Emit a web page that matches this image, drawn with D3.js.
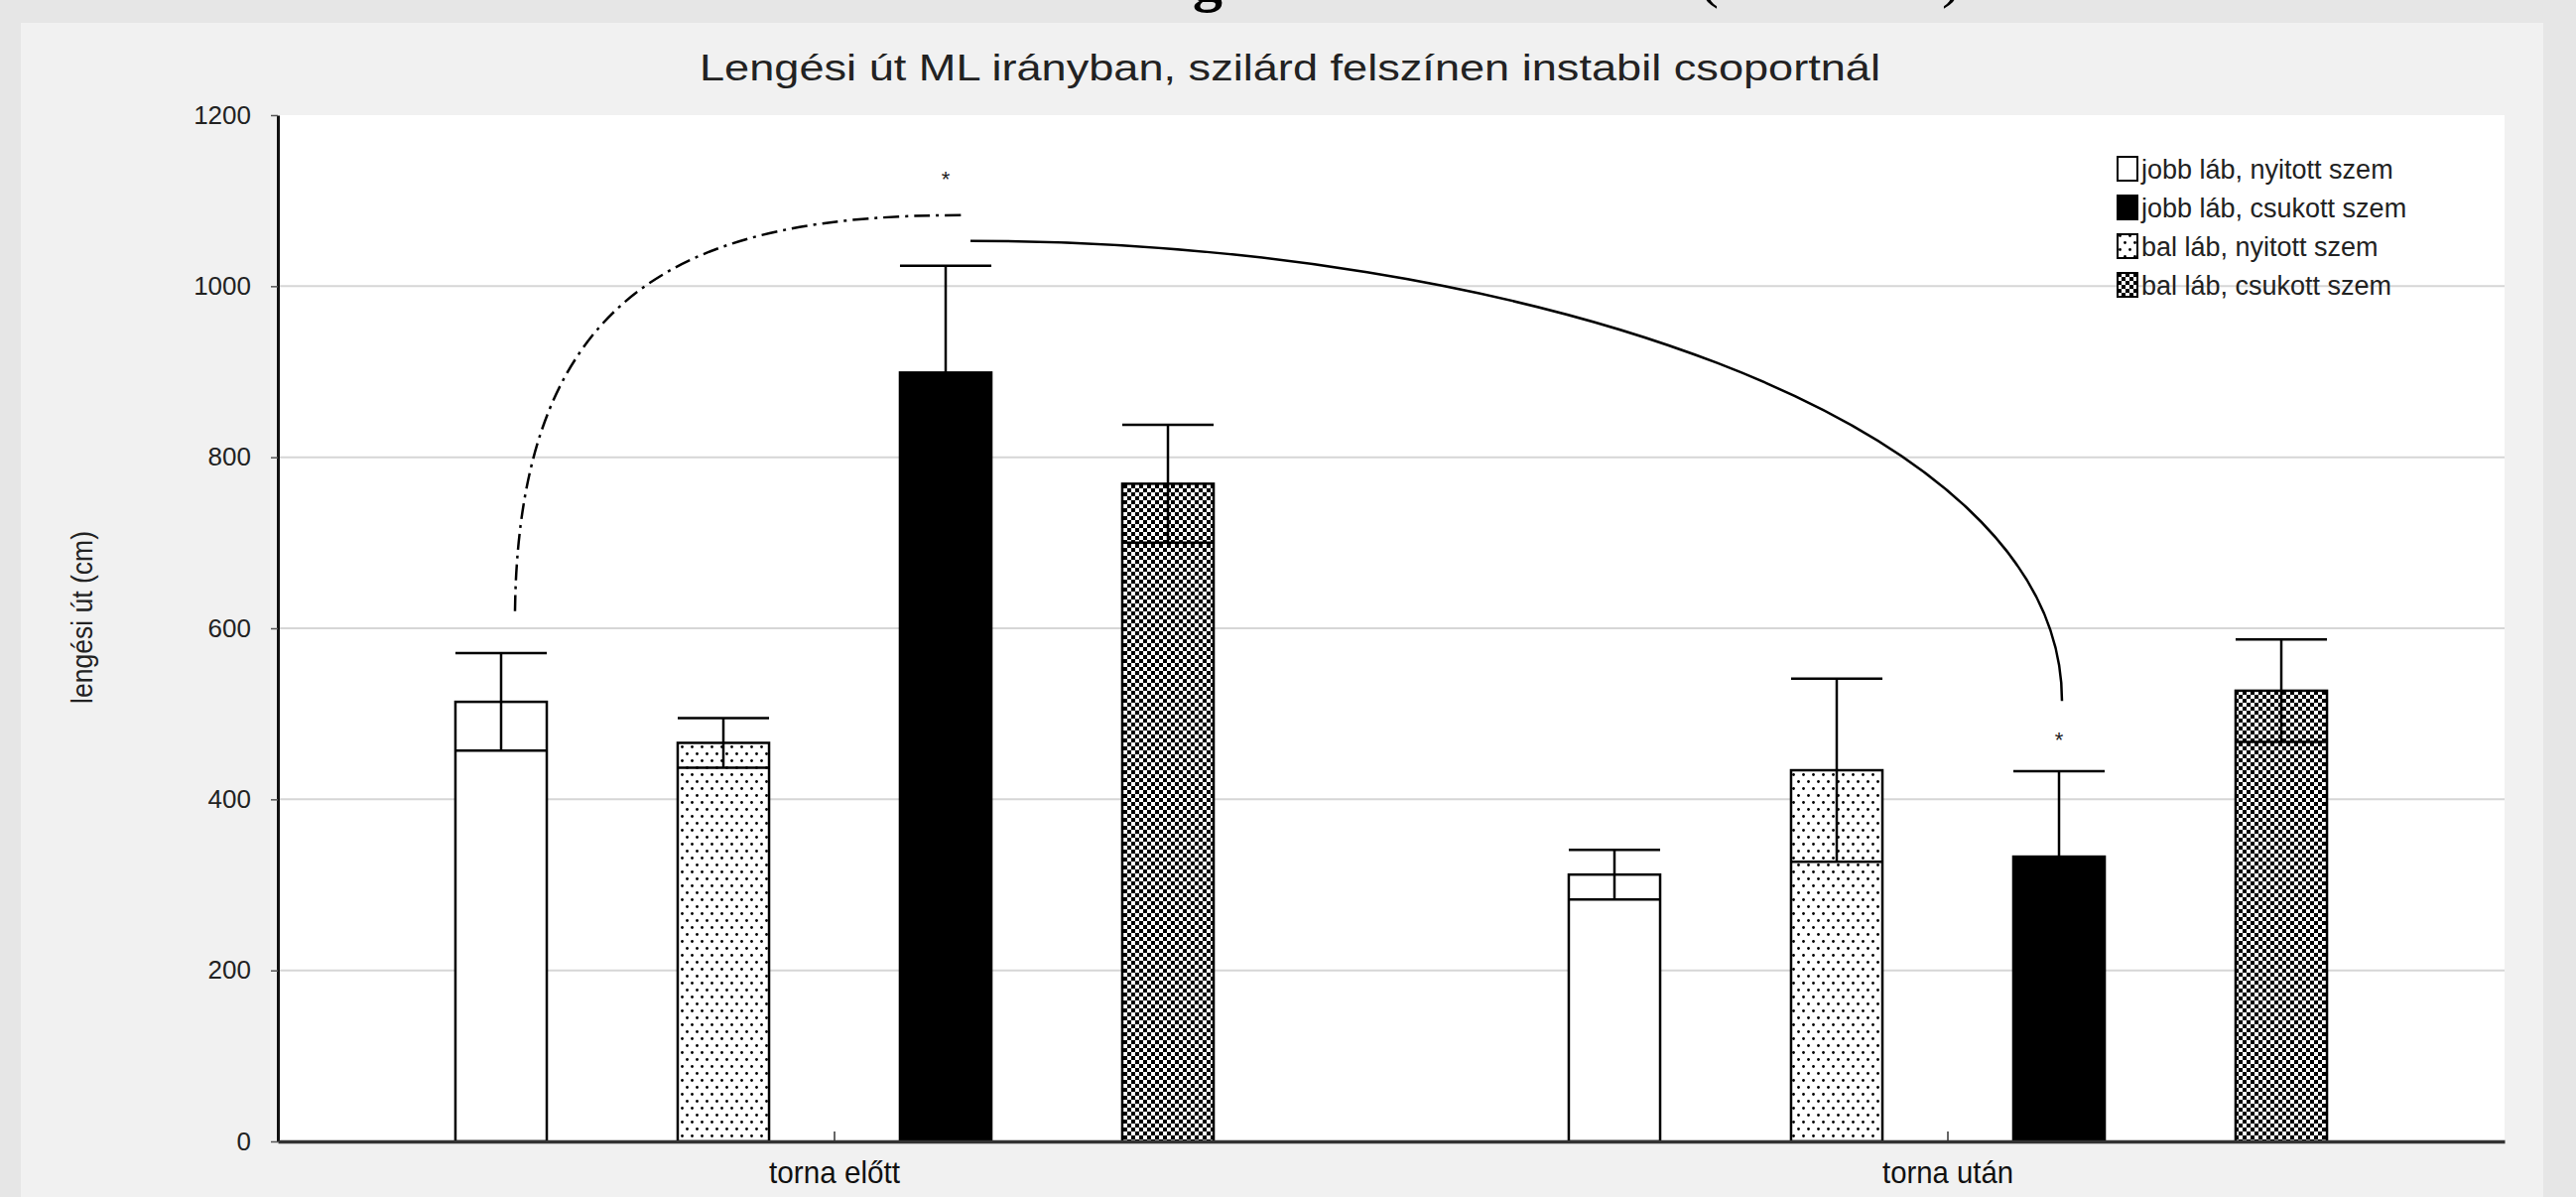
<!DOCTYPE html>
<html>
<head>
<meta charset="utf-8">
<script src="https://cdn.jsdelivr.net/npm/d3@7"></script>
<style>
  html, body { margin: 0; padding: 0; background: #e6e6e6; }
  svg { display: block; }
</style>
</head>
<body>
<svg id="chart" width="2596" height="1206"></svg>
<script>
// Groups on the x axis
const categories = ["torna előtt", "torna után"];

// Series in legend order
const seriesNames = [
  "jobb láb, nyitott szem",
  "jobb láb, csukott szem",
  "bal láb, nyitott szem",
  "bal láb, csukott szem"
];
// Order in which the series stand inside each group
const barOrder = [0, 2, 1, 3];

// Means (cm) per group
const jobbNyitott = [514, 312];
const jobbCsukott = [899, 333];
const balNyitott  = [466, 434];
const balCsukott  = [769, 527];

// Error half-widths (cm) per group
const errJobbNyitott = [57, 29];
const errJobbCsukott = [125, 100];
const errBalNyitott  = [29, 107];
const errBalCsukott  = [69, 60];

const yTicks = [0, 200, 400, 600, 800, 1000, 1200];

const means = [jobbNyitott, jobbCsukott, balNyitott, balCsukott];
const errs  = [errJobbNyitott, errJobbCsukott, errBalNyitott, errBalCsukott];

// Significance marks: value levels of curve ends and stars
const sigDashStart = 620, sigDashEnd = 1083, sigStar1 = 1127;
const sigSolidStart = 1053, sigSolidEnd = 515, sigStar2 = 471;

const svg = d3.select("#chart");
const W = 2596, H = 1206;
const plot = { left: 280, right: 2524, top: 116, bottom: 1150 };

// slide background and inner panel
svg.append("rect").attr("width", W).attr("height", H).attr("fill", "#e6e6e6");
svg.append("rect").attr("x", 21).attr("y", 23).attr("width", 2542).attr("height", H - 23).attr("fill", "#f1f1f1");

// descenders of the slide heading above the panel
const headFont = "'Liberation Serif', 'DejaVu Serif', serif";
svg.append("text").attr("x", 1217).attr("y", 0).attr("text-anchor", "middle")
  .attr("font-family", headFont).attr("font-weight", "bold").attr("font-size", 60).text("g");
svg.append("text").attr("x", 1722).attr("y", -4).attr("text-anchor", "middle")
  .attr("font-family", headFont).attr("font-size", 60).text("(");
svg.append("text").attr("x", 1967).attr("y", -4).attr("text-anchor", "middle")
  .attr("font-family", headFont).attr("font-size", 60).text(")");

// fill patterns
const defs = svg.append("defs");
const dots = defs.append("pattern").attr("id", "dots").attr("patternUnits", "userSpaceOnUse")
  .attr("width", 10).attr("height", 14);
dots.append("rect").attr("width", 10).attr("height", 14).attr("fill", "#fff");
dots.append("circle").attr("cx", 2.5).attr("cy", 3.5).attr("r", 1.4).attr("fill", "#000");
dots.append("circle").attr("cx", 7.5).attr("cy", 10.5).attr("r", 1.4).attr("fill", "#000");

const checker = defs.append("pattern").attr("id", "checker").attr("patternUnits", "userSpaceOnUse")
  .attr("width", 8).attr("height", 8);
checker.append("rect").attr("width", 8).attr("height", 8).attr("fill", "#000");
checker.append("rect").attr("x", 0).attr("y", 0).attr("width", 4).attr("height", 4).attr("fill", "#fff");
checker.append("rect").attr("x", 4).attr("y", 4).attr("width", 4).attr("height", 4).attr("fill", "#fff");

const fills = ["#ffffff", "#000000", "url(#dots)", "url(#checker)"];

// scales
const y = d3.scaleLinear().domain([0, 1200]).range([plot.bottom, plot.top]);
const x0 = d3.scaleBand().domain(categories).range([plot.left, plot.right])
  .paddingInner(0.2014).paddingOuter(0.1007);
const x1 = d3.scaleBand().domain(barOrder).range([0, x0.bandwidth()])
  .paddingInner(0.589).paddingOuter(0.2945);
const barCenter = (ci, si) => x0(categories[ci]) + x1(si) + x1.bandwidth() / 2;

// plot area
svg.append("rect").attr("x", plot.left).attr("y", plot.top)
  .attr("width", plot.right - plot.left).attr("height", plot.bottom - plot.top).attr("fill", "#fff");

// gridlines
svg.append("g").selectAll("line").data(yTicks.filter(t => t > 0 && t < 1200)).join("line")
  .attr("x1", plot.left).attr("x2", plot.right)
  .attr("y1", d => y(d)).attr("y2", d => y(d))
  .attr("stroke", "#d6d6d6").attr("stroke-width", 2);

// bars
const barData = [];
categories.forEach((c, ci) => barOrder.forEach(si => barData.push({ c, ci, si, v: means[si][ci], e: errs[si][ci] })));

svg.append("g").selectAll("rect").data(barData).join("rect")
  .attr("x", d => x0(d.c) + x1(d.si))
  .attr("y", d => y(d.v))
  .attr("width", x1.bandwidth())
  .attr("height", d => y(0) - y(d.v))
  .attr("fill", d => fills[d.si])
  .attr("stroke", "#000").attr("stroke-width", 2.5);

// error bars: whisker with caps across the bar width
const eb = svg.append("g").attr("stroke", "#000").attr("stroke-width", 2.5);
barData.forEach(d => {
  const l = x0(d.c) + x1(d.si), r = l + x1.bandwidth(), cx = (l + r) / 2;
  eb.append("line").attr("x1", cx).attr("x2", cx).attr("y1", y(d.v - d.e)).attr("y2", y(d.v + d.e));
  eb.append("line").attr("x1", l).attr("x2", r).attr("y1", y(d.v + d.e)).attr("y2", y(d.v + d.e));
  eb.append("line").attr("x1", l).attr("x2", r).attr("y1", y(d.v - d.e)).attr("y2", y(d.v - d.e));
});

// axes
const yAxis = d3.axisLeft(y).tickValues(yTicks).tickSize(7).tickSizeOuter(0).tickPadding(20).tickFormat(d3.format("d"));
const gy = svg.append("g").attr("transform", `translate(${plot.left},0)`).call(yAxis);
gy.select(".domain").attr("stroke", "#111").attr("stroke-width", 3);
gy.selectAll(".tick line").attr("stroke", "#555").attr("stroke-width", 1.5);
gy.selectAll(".tick text").attr("font-family", "'Liberation Sans', Arial, sans-serif")
  .attr("font-size", 26).attr("fill", "#222");

const xAxis = d3.axisBottom(x0).tickSize(-10).tickSizeOuter(0).tickPadding(0).tickFormat("");
const gx = svg.append("g").attr("transform", `translate(0,${plot.bottom})`).call(xAxis);
gx.select(".domain").attr("stroke", "#333").attr("stroke-width", 3.5);
gx.selectAll(".tick line").attr("stroke", "#333").attr("stroke-width", 1.5);

const narrow = "'Liberation Sans Narrow', 'Arial Narrow', 'Liberation Sans', sans-serif";
svg.append("g").selectAll("text").data(categories).join("text")
  .attr("x", d => x0(d) + x0.bandwidth() / 2)
  .attr("y", 1192)
  .attr("text-anchor", "middle")
  .attr("font-family", narrow).attr("font-size", 32).attr("fill", "#111")
  .attr("textLength", 132).attr("lengthAdjust", "spacingAndGlyphs")
  .text(d => d);

// axis title
svg.append("text")
  .attr("transform", `translate(93,622) rotate(-90)`)
  .attr("text-anchor", "middle")
  .attr("font-family", narrow).attr("font-size", 30).attr("fill", "#222")
  .attr("textLength", 174).attr("lengthAdjust", "spacingAndGlyphs")
  .text("lengési út (cm)");

// chart title
svg.append("text")
  .attr("x", 1300).attr("y", 81)
  .attr("text-anchor", "middle")
  .attr("font-family", narrow).attr("font-size", 37).attr("fill", "#222")
  .attr("textLength", 1190).attr("lengthAdjust", "spacingAndGlyphs")
  .text("Lengési út ML irányban, szilárd felszínen instabil csoportnál");

// significance curves
const xa = barCenter(0, 0) + 14;
const xb = barCenter(0, 1) + 16;
const pDash = d3.path();
pDash.moveTo(xa, y(sigDashStart));
pDash.bezierCurveTo(xa + 4, y(sigDashStart) - 330, xa + 180, y(sigDashEnd), xb, y(sigDashEnd));
svg.append("path").attr("d", pDash.toString()).attr("fill", "none")
  .attr("stroke", "#000").attr("stroke-width", 2.5).attr("stroke-dasharray", "16,6,3,6");

const xc = barCenter(0, 1) + 25;
const xd = barCenter(1, 1) + 3;
const pSolid = d3.path();
pSolid.moveTo(xc, y(sigSolidStart));
pSolid.bezierCurveTo(xc + 540, y(sigSolidStart), xd, y(sigSolidEnd) - 290, xd, y(sigSolidEnd));
svg.append("path").attr("d", pSolid.toString()).attr("fill", "none")
  .attr("stroke", "#000").attr("stroke-width", 2.5);

svg.append("g").selectAll("text")
  .data([{ ci: 0, v: sigStar1 }, { ci: 1, v: sigStar2 }]).join("text")
  .attr("x", d => barCenter(d.ci, 1))
  .attr("y", d => y(d.v) + 9)
  .attr("text-anchor", "middle")
  .attr("font-family", "'Liberation Sans', Arial, sans-serif").attr("font-size", 22).attr("fill", "#222")
  .text("*");

// legend
const legend = svg.append("g").attr("transform", "translate(2134,170)");
const rows = legend.selectAll("g").data(seriesNames).join("g")
  .attr("transform", (d, i) => `translate(0,${i * 39})`);
rows.append("rect").attr("x", 0).attr("y", -12).attr("width", 20).attr("height", 24)
  .attr("fill", (d, i) => fills[i]).attr("stroke", "#000").attr("stroke-width", 2);
rows.append("text").attr("x", 24).attr("y", 10)
  .attr("font-family", "'Liberation Sans', Arial, sans-serif").attr("font-size", 27).attr("fill", "#222")
  .text(d => d);
</script>
</body>
</html>
